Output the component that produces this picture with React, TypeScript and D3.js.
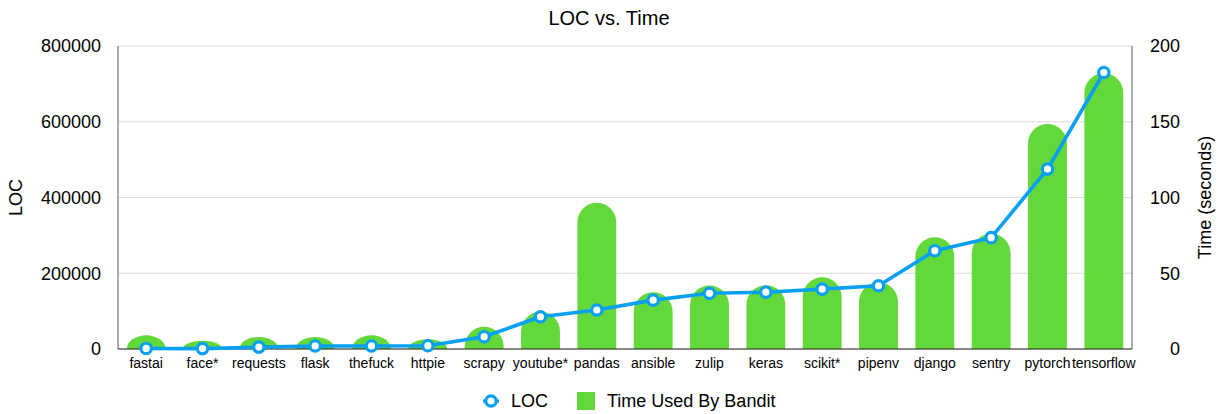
import React from 'react';
import * as d3 from 'd3';

const projects = ['fastai', 'face*', 'requests', 'flask', 'thefuck', 'httpie', 'scrapy', 'youtube*', 'pandas', 'ansible', 'zulip', 'keras', 'scikit*', 'pipenv', 'django', 'sentry', 'pytorch', 'tensorflow'];
const locValues = [1500, 1000, 5000, 8000, 8000, 8700, 32500, 85000, 103000, 129000, 147000, 150000, 158000, 167000, 259500, 294000, 475000, 730000];
const timeValues = [9, 5.5, 8, 8, 9, 6.5, 14.7, 24.6, 96.5, 37.4, 42, 42, 47.3, 44, 73.7, 76, 148.5, 182];
const locTicks = [0, 200000, 400000, 600000, 800000];
const timeTicks = [0, 50, 100, 150, 200];

const W = 1219, H = 414;
const m = { left: 118, right: 1132, top: 46, bottom: 349 };
const font = 'Helvetica, Arial, "Liberation Sans", sans-serif';
const green = '#62d83a';
const blue = '#0aa0f2';

// bar with rounded (elliptical when short) top
function barPath(x: number, y: number, w: number, h: number) {
  const rx = w / 2;
  const ry = Math.min(w / 2, h);
  const b = y + h;
  return `M${x},${b} L${x},${y + ry} A${rx},${ry} 0 0 1 ${x + w},${y + ry} L${x + w},${b} Z`;
}

export default function App() {
  const x = d3.scaleBand<string>().domain(projects).range([m.left, m.right]).paddingInner(0.31).paddingOuter(0.155);
  const yLoc = d3.scaleLinear().domain([0, 800000]).range([m.bottom, m.top]);
  const yTime = d3.scaleLinear().domain([0, 200]).range([m.bottom, m.top]);
  const cx = (p: string) => (x(p) as number) + x.bandwidth() / 2;
  const line = d3.line<number>().x((_, i) => cx(projects[i])).y(d => yLoc(d));

  return (
    <svg width={W} height={H} style={{ position: 'absolute', left: 0, top: 0 }} fontFamily={font}>
      <text x={609} y={25} textAnchor="middle" fontSize={20}>LOC vs. Time</text>
      {/* grid */}
      {locTicks.map(t => (
        <line key={t} x1={m.left} x2={m.right} y1={yLoc(t)} y2={yLoc(t)} stroke="#dcdcdc" strokeWidth={1} />
      ))}
      {/* bars */}
      {projects.map((p, i) => {
        const y = yTime(timeValues[i]);
        return <path key={p} d={barPath(x(p) as number, y, x.bandwidth(), m.bottom - y)} fill={green} />;
      })}
      {/* axes lines */}
      <line x1={m.left} x2={m.left} y1={m.top} y2={m.bottom} stroke="#777" strokeWidth={1.2} />
      <line x1={m.right} x2={m.right} y1={m.top} y2={m.bottom} stroke="#777" strokeWidth={1.2} />
      <line x1={m.left} x2={m.right} y1={m.bottom} y2={m.bottom} stroke="#222" strokeWidth={1.2} />
      {/* LOC line */}
      <path d={line(locValues) as string} fill="none" stroke={blue} strokeWidth={3.6} strokeLinejoin="round" />
      {locValues.map((v, i) => (
        <circle key={i} cx={cx(projects[i])} cy={yLoc(v)} r={5.2} fill="#fff" stroke={blue} strokeWidth={3.2} />
      ))}
      {/* left ticks */}
      {locTicks.map(t => (
        <text key={t} x={101} y={yLoc(t)} dy="0.35em" textAnchor="end" fontSize={18}>{t}</text>
      ))}
      <text transform={`translate(22,${(m.top + m.bottom) / 2}) rotate(-90)`} textAnchor="middle" fontSize={18}>LOC</text>
      {/* right ticks */}
      {timeTicks.map(t => (
        <text key={t} x={1180} y={yTime(t)} dy="0.35em" textAnchor="end" fontSize={18}>{t}</text>
      ))}
      <text transform={`translate(1211,${(m.top + m.bottom) / 2}) rotate(-90)`} textAnchor="middle" fontSize={18}>Time (seconds)</text>
      {/* x labels */}
      {projects.map(p => (
        <text key={p} x={cx(p)} y={368} textAnchor="middle" fontSize={14}>{p}</text>
      ))}
      {/* legend */}
      <line x1={483} x2={499} y1={401} y2={401} stroke={blue} strokeWidth={3.2} />
      <circle cx={491} cy={401} r={5.2} fill="#fff" stroke={blue} strokeWidth={3.2} />
      <text x={511} y={401} dy="0.35em" fontSize={18}>LOC</text>
      <rect x={577} y={392} width={18} height={18} fill={green} />
      <text x={607} y={401} dy="0.35em" fontSize={18}>Time Used By Bandit</text>
    </svg>
  );
}
